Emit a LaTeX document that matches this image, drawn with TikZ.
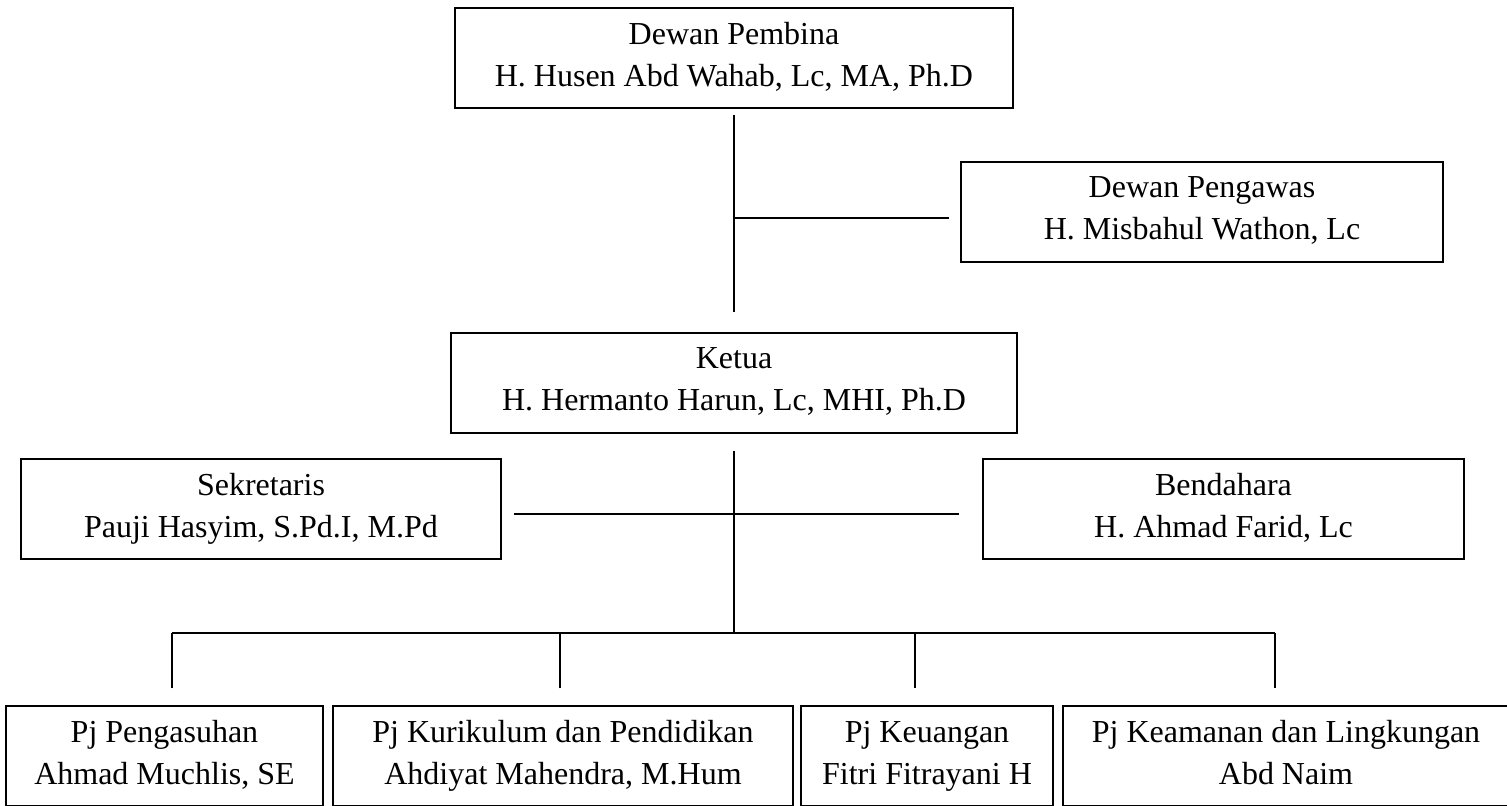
\documentclass[tikz,border=0pt]{standalone}
\usepackage{fontspec}
\setmainfont{Liberation Serif}
\begin{document}
\begin{tikzpicture}[
  x=0.5pt, y=-0.5pt,
  font=\fontsize{16pt}{21pt}\selectfont,
  unit/.style={draw=black, line width=0.6pt, minimum height=50pt, align=center, inner sep=0pt,
    execute at end node={\rule[-3.6pt]{0pt}{0pt}}},
  link/.style={draw=black, line width=0.85pt}
]
  \useasboundingbox (0,0) rectangle (1507,805);
  \node[unit, minimum width=279pt] (pembina) at (734,58) {Dewan Pembina\\H. Husen Abd Wahab, Lc, MA, Ph.D};
  \node[unit, minimum width=241pt] (pengawas) at (1202,212) {Dewan Pengawas\\H. Misbahul Wathon, Lc};
  \node[unit, minimum width=283pt] (ketua) at (734,383) {Ketua\\H. Hermanto Harun, Lc, MHI, Ph.D};
  \node[unit, minimum width=240pt] (sekretaris) at (261,509) {Sekretaris\\Pauji Hasyim, S.Pd.I, M.Pd};
  \node[unit, minimum width=240.5pt] (bendahara) at (1223.5,509) {Bendahara\\H. Ahmad Farid, Lc};
  \node[unit, minimum width=158.5pt] (pengasuhan) at (164.5,756) {Pj Pengasuhan\\Ahmad Muchlis, SE};
  \node[unit, minimum width=230pt] (kurikulum) at (563,756) {Pj Kurikulum dan Pendidikan\\Ahdiyat Mahendra, M.Hum};
  \node[unit, minimum width=126pt] (keuangan) at (927,756) {Pj Keuangan\\Fitri Fitrayani H};
  \node[unit, minimum width=223pt] (keamanan) at (1286,756) {Pj Keamanan dan Lingkungan\\Abd Naim};
  \coordinate (tap) at ([yshift=-3pt]pengawas.west);
  \coordinate (bar) at (0,633);
  \draw[link] ([yshift=-3pt]pembina.south) -- ([yshift=10pt]ketua.north);
  \draw[link] (tap -| pembina.south) -- ([xshift=-5.5pt]tap);
  \draw[link] ([yshift=-8.5pt]ketua.south) -- (ketua.south |- bar);
  \draw[link] ([xshift=6pt, yshift=-2.5pt]sekretaris.east) -- ([xshift=-11.5pt, yshift=-2.5pt]bendahara.west);
  \foreach \nm/\dx in {pengasuhan/3.75, kurikulum/-1.5, keuangan/-6, keamanan/-5.5} {
    \coordinate (d\nm) at ([xshift=\dx pt, yshift=8.5pt]\nm.north);
    \draw[link] (d\nm) -- (d\nm |- bar);
  }
  \draw[link] (dpengasuhan |- bar) -- (dkeamanan |- bar);
\end{tikzpicture}
\end{document}
